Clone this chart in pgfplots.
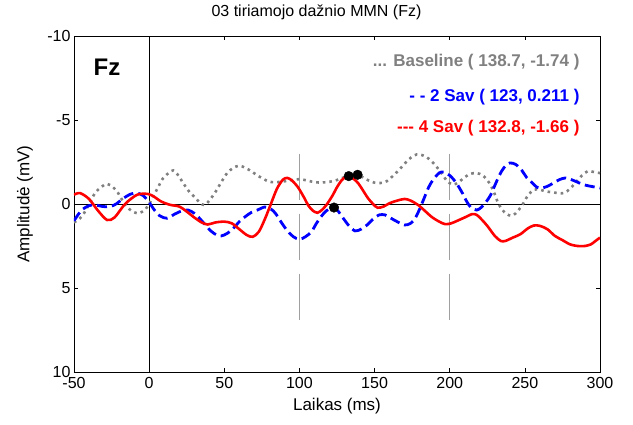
\documentclass[border=0pt]{standalone}
\usepackage{fontspec}
\setmainfont{Liberation Sans}
\usepackage{pgfplots}
\pgfplotsset{compat=1.18}
\definecolor{mgray}{RGB}{128,128,128}
\definecolor{lgray}{RGB}{160,160,160}
\begin{document}
\begin{tikzpicture}
\useasboundingbox (-74pt,-53pt) rectangle (559pt,372pt);
\begin{axis}[
  at={(0pt,0pt)}, anchor=south west,
  scale only axis, width=526pt, height=336pt,
  xmin=-50, xmax=300, ymin=-10, ymax=10, y dir=reverse,
  xtick={-50,0,50,100,150,200,250,300},
  ytick={-10,-5,0,5,10},
  tick align=inside, major tick length=4pt,
  tick style={black, line width=0.5pt},
  tick label style={font=\fontsize{16}{19}\selectfont},
  xticklabel style={yshift=-2pt},
  /pgf/number format/assume math mode=true,
  axis line style={black, line width=0.6pt},
  xlabel={Laikas (ms)}, ylabel={Amplitudė (mV)},
  xlabel style={font=\fontsize{17}{20}\selectfont, at={(axis description cs:0.5,-0.1)}, anchor=center},
  ylabel style={font=\fontsize{17}{20}\selectfont, at={(axis description cs:-0.093,0.5)}, anchor=center, rotate=0},
  title={03 tiriamojo dažnio MMN (Fz)},
  title style={font=\fontsize{16}{19}\selectfont, at={(axis description cs:0.461,1.0536)}, anchor=center},
]
% reference lines
\addplot[black, line width=0.5pt] coordinates {(-50,0) (300,0)};
\addplot[black, line width=0.5pt] coordinates {(0,-10) (0,10)};
\addplot[lgray, line width=1.2pt, dash pattern=on 46pt off 14pt] coordinates {(100,-3) (100,7)};
\addplot[lgray, line width=1.2pt, dash pattern=on 46pt off 14pt] coordinates {(200,-3) (200,7)};
% Baseline (gray dotted)
\addplot[mgray, line width=2.6pt, dash pattern=on 2.6pt off 4pt, smooth] coordinates {
(-50,1.1)(-46,0.85)(-43,0.5)(-40,0.0)(-36,-0.65)(-32,-1.0)(-28,-1.2)(-24,-1.0)(-21,-0.7)(-18,-0.25)(-15,0.15)(-11,0.45)(-7,0.55)(-3,0.36)(0,0.0)(3,-0.5)(6,-1.0)(9,-1.5)(13,-1.85)(16,-2.0)(19,-1.75)(23,-1.2)(27,-0.7)(31,-0.35)(34,-0.05)(37,0.06)(40,-0.2)(44,-0.7)(48,-1.3)(52,-1.85)(56,-2.15)(60,-2.28)(64,-2.15)(68,-1.95)(72,-1.7)(76,-1.5)(80,-1.32)(85,-1.3)(90,-1.35)(95,-1.42)(100,-1.48)(105,-1.4)(110,-1.3)(115,-1.28)(120,-1.32)(125,-1.43)(130,-1.6)(134,-1.7)(138.7,-1.74)(142,-1.6)(146,-1.4)(150,-1.27)(154,-1.25)(158,-1.35)(162,-1.65)(166,-2.0)(170,-2.4)(174,-2.75)(178,-2.95)(182,-2.9)(186,-2.7)(190,-2.35)(194,-1.9)(198,-1.4)(202,-1.15)(206,-1.3)(210,-1.6)(214,-1.8)(218,-1.84)(222,-1.7)(226,-1.3)(229,-0.8)(232,-0.1)(235,0.35)(238,0.6)(241,0.7)(244,0.55)(248,0.1)(252,-0.5)(256,-0.85)(260,-0.85)(264,-0.75)(268,-0.7)(272,-0.65)(276,-0.65)(280,-0.9)(284,-1.3)(288,-1.7)(292,-1.96)(296,-1.9)(300,-1.84)
};
% 2 Sav (blue dashed)
\addplot[blue, line width=2.8pt, dash pattern=on 10pt off 5pt, smooth] coordinates {
(-50,1.0)(-47,0.6)(-44,0.3)(-40,0.1)(-36,0.05)(-31,0.15)(-26,0.15)(-22,0.0)(-17,-0.35)(-12,-0.6)(-8,-0.65)(-4,-0.5)(0,-0.1)(3,0.3)(7,0.7)(12,0.85)(17,0.6)(22,0.4)(26,0.36)(30,0.55)(33,0.8)(37,1.2)(41,1.6)(45,1.85)(48,1.9)(52,1.75)(56,1.45)(60,1.05)(64,0.75)(68,0.5)(72,0.36)(77,0.18)(81,0.3)(84,0.55)(88,1.1)(92,1.6)(96,1.95)(100,2.1)(104,1.95)(108,1.65)(111,1.2)(114,0.8)(118,0.4)(123,0.21)(126,0.45)(129,0.83)(133,1.3)(137,1.6)(141,1.5)(145,1.25)(149,0.9)(153,0.65)(157,0.65)(161,0.85)(165,1.05)(170,1.25)(174,1.15)(177,0.85)(180,0.3)(183,-0.35)(186,-1.0)(189,-1.45)(193,-1.85)(196,-1.9)(200,-1.7)(204,-1.3)(208,-0.72)(211,-0.2)(214,0.2)(218,0.36)(221,0.2)(224,-0.1)(227,-0.5)(230,-1.1)(233,-1.7)(236,-2.15)(240,-2.44)(244,-2.35)(248,-2.0)(251,-1.6)(255,-1.25)(258,-1.0)(261,-0.95)(265,-1.05)(269,-1.25)(273,-1.45)(277,-1.55)(281,-1.45)(285,-1.3)(289,-1.15)(293,-1.07)(297,-1.0)(300,-0.95)
};
% 4 Sav (red solid)
\addplot[red, line width=2.6pt, smooth] coordinates {
(-50,-0.55)(-46,-0.65)(-40,-0.3)(-34,0.4)(-28,0.95)(-23,0.8)(-16,0.0)(-8,-0.55)(-1,-0.6)(3,-0.45)(8,-0.15)(14,0.05)(20,0.15)(25,0.45)(30,0.8)(35,1.1)(39,1.22)(44,1.1)(50,1.05)(55,1.15)(60,1.5)(65,1.85)(69,1.95)(73,1.65)(77,0.9)(81,0.0)(85,-0.9)(89,-1.45)(92,-1.55)(95,-1.4)(99,-1.0)(103,-0.4)(106,0.1)(109,0.4)(112,0.52)(115,0.35)(118,0.05)(122,-0.5)(125,-1.0)(128,-1.4)(130.5,-1.6)(132.8,-1.66)(136,-1.5)(139,-1.25)(142,-0.85)(145.6,-0.35)(149,0.0)(152,0.22)(156,0.15)(160,-0.05)(165,-0.2)(170,-0.3)(174,-0.2)(179,0.06)(184,0.45)(188,0.77)(193,1.05)(197,1.2)(201,1.15)(205,1.0)(210,0.8)(215,0.6)(218,0.65)(221,0.9)(225,1.3)(230,1.9)(234,2.2)(237,2.2)(242,2.0)(247,1.8)(252,1.45)(256,1.28)(260,1.3)(265,1.5)(270,1.9)(275,2.15)(280,2.4)(285,2.5)(290,2.5)(294,2.4)(297,2.2)(300,2.0)
};
% peak markers
\addplot[only marks, mark=*, mark size=4.8pt, black] coordinates {(123,0.211) (132.8,-1.66) (138.7,-1.74)};
% annotations
\node[font=\fontsize{24}{28}\selectfont\bfseries] at (axis cs:-28,-8.15) {Fz};
\node[anchor=east, text=mgray, font=\fontsize{17}{20}\selectfont\bfseries] at (axis cs:288.7,-8.45) {... Baseline ( 138.7, -1.74 )};
\node[anchor=east, text=blue, font=\fontsize{17}{20}\selectfont\bfseries] at (axis cs:288.7,-6.37) {{-} {-} 2 Sav ( 123, 0.211 )};
\node[anchor=east, text=red, font=\fontsize{17}{20}\selectfont\bfseries] at (axis cs:288.7,-4.52) {{-}{-}{-} 4 Sav ( 132.8, -1.66 )};
\end{axis}
\end{tikzpicture}
\end{document}
